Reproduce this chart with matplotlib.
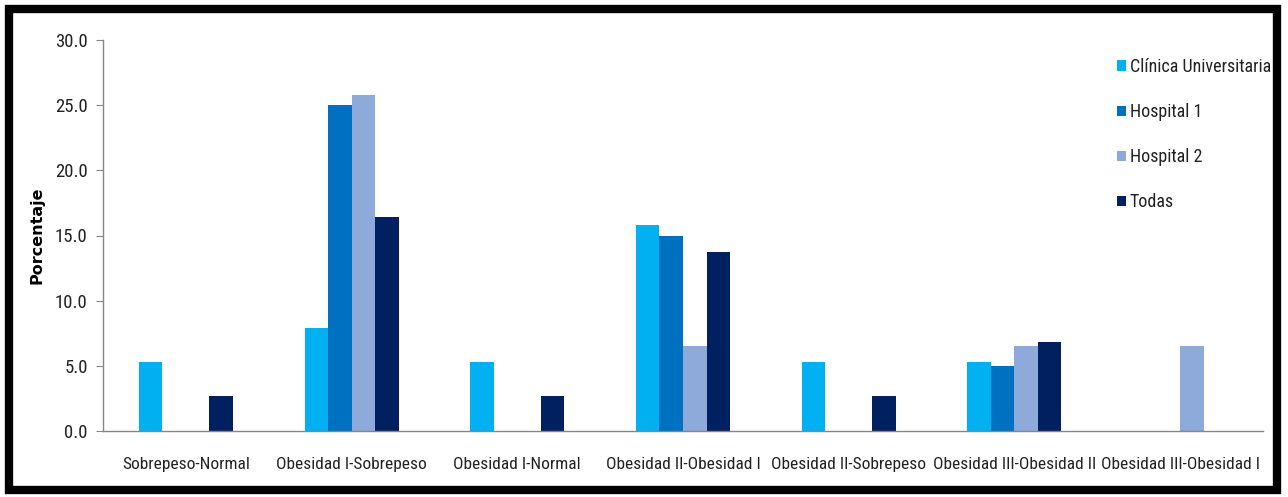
import matplotlib
matplotlib.use('Agg')
import matplotlib.pyplot as plt
from matplotlib.patches import Rectangle
import numpy as np

# Datos del gráfico (porcentajes por tipo de cambio de categoría)
categorias = ['Sobrepeso-Normal', 'Obesidad I-Sobrepeso', 'Obesidad I-Normal',
              'Obesidad II-Obesidad I', 'Obesidad II-Sobrepeso',
              'Obesidad III-Obesidad II', 'Obesidad III-Obesidad I']
clinica = [5.3, 7.9, 5.3, 15.8, 5.3, 5.3, 0.0]
hospital1 = [0.0, 25.0, 0.0, 15.0, 0.0, 5.0, 0.0]
hospital2 = [0.0, 25.8, 0.0, 6.5, 0.0, 6.5, 6.5]
todas = [2.7, 16.4, 2.7, 13.7, 2.7, 6.8, 0.0]
series = ['Clínica Universitaria', 'Hospital 1', 'Hospital 2', 'Todas']
colores = ['#00b0f0', '#0070c0', '#8eaadb', '#002060']

fuente = ['Roboto Condensed', 'Carlito']

fig = plt.figure(figsize=(12.88, 4.97), dpi=100)
ax = fig.add_axes([103 / 1288, 1 - 431 / 497, (1263 - 103) / 1288, (431 - 40) / 497])

x = np.arange(len(categorias))
ancho = 0.142
valores = [clinica, hospital1, hospital2, todas]
for i, (vals, nombre, color) in enumerate(zip(valores, series, colores)):
    ax.bar(x + (i - 1.5) * ancho, vals, ancho, color=color, label=nombre, zorder=2)

ax.set_xlim(-0.5, len(categorias) - 0.5)
ax.set_ylim(0, 30)
ax.set_yticks(np.arange(0, 30.1, 5))
ax.set_yticklabels([f'{v:.1f}' for v in np.arange(0, 30.1, 5)],
                   fontsize=13.5, family=fuente, color='#222222')
ax.set_xticks(x)
ax.set_xticklabels(categorias, fontsize=12.5, family=fuente, color='#222222')
ax.tick_params(axis='x', length=0, pad=19)
ax.tick_params(axis='y', length=5, color='#868686', pad=6)
for lado in ['top', 'right']:
    ax.spines[lado].set_visible(False)
for lado in ['left', 'bottom']:
    ax.spines[lado].set_color('#868686')
    ax.spines[lado].set_linewidth(1.0)

ax.set_ylabel('Porcentaje', fontsize=11.5, fontweight='bold', family='DejaVu Sans')
ax.yaxis.set_label_coords((45 - 103) / (1263 - 103), 0.5)

leg = ax.legend(loc='upper left', bbox_to_anchor=((1099 - 103) / (1263 - 103), 1.0),
                frameon=False, prop={'family': fuente, 'size': 13},
                handlelength=0.5, handleheight=0.5, handletextpad=0.2,
                labelspacing=1.5, borderaxespad=0.6)
for t in leg.get_texts():
    t.set_color('#222222')

# Marco negro alrededor de todo el gráfico
fig.patches.append(Rectangle((9 / 1288, 7 / 497), 1 - 20 / 1288, 1 - 16 / 497,
                             transform=fig.transFigure, fill=False,
                             edgecolor='black', linewidth=6, zorder=10))

fig.savefig('out.png', dpi=100)
